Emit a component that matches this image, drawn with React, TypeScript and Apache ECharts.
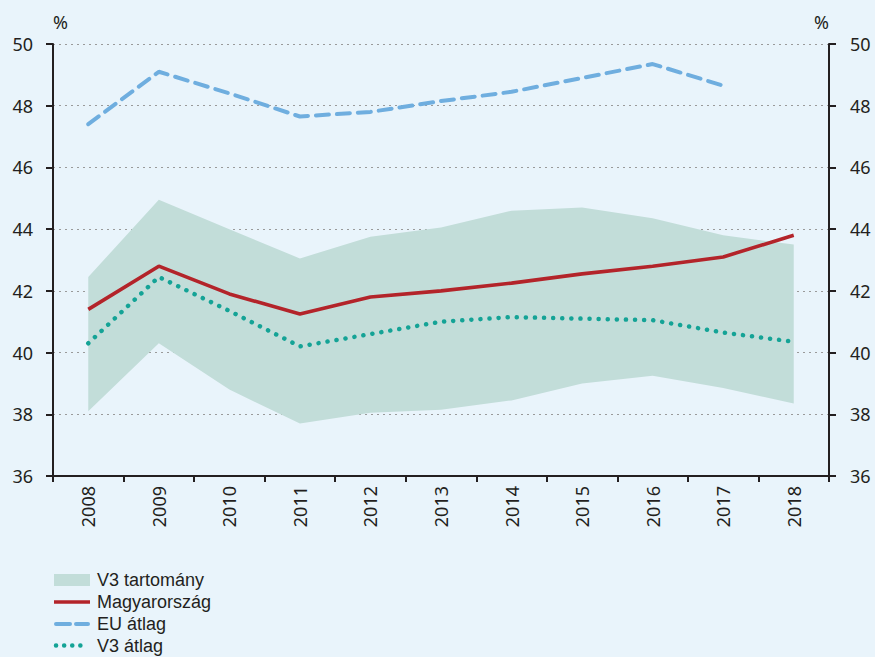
import React, { useEffect, useRef } from "react";
import * as echarts from "echarts";

const years = ["2008", "2009", "2010", "2011", "2012", "2013", "2014", "2015", "2016", "2017", "2018"];
const bandLow = [38.1, 40.3, 38.8, 37.7, 38.05, 38.15, 38.45, 39.0, 39.25, 38.85, 38.35];
const bandHigh = [42.45, 44.95, 44.0, 43.05, 43.75, 44.05, 44.6, 44.7, 44.35, 43.8, 43.5];
const hungary = [41.4, 42.8, 41.9, 41.25, 41.8, 42.0, 42.25, 42.55, 42.8, 43.1, 43.8];
const euAvg: (number | null)[] = [47.4, 49.1, 48.4, 47.65, 47.8, 48.15, 48.45, 48.9, 49.35, 48.65, null];
const v3Avg = [40.3, 42.45, 41.35, 40.2, 40.6, 41.0, 41.15, 41.1, 41.05, 40.65, 40.35];
const yTicks = { min: 36, max: 50, interval: 2 };
const legendNames = ["V3 tartomány", "Magyarország", "EU átlag", "V3 átlag"];

const FONT = "Noto Sans";
const LEGEND_FONT = "Liberation Sans";
const TEXT = "#231f20";
const BG = "#e9f4fb";
const BAND = "#c2ddd9";
const RED = "#b3242a";
const BLUE = "#6faedf";
const TEAL = "#14a396";

export default function App() {
  const ref = useRef<HTMLDivElement>(null);
  useEffect(() => {
    if (!ref.current) return;
    const chart = echarts.init(ref.current, undefined, { renderer: "svg" });
    const bandDiff = bandHigh.map((h, i) => Math.round((h - bandLow[i]) * 1000) / 1000);
    const axisCommon = {
      type: "value" as const,
      min: yTicks.min,
      max: yTicks.max,
      interval: yTicks.interval,
      name: "%",
      nameLocation: "end" as const,
      nameGap: 22,
      axisLine: { show: true, lineStyle: { color: TEXT, width: 2 } },
      axisTick: { show: true, length: 7, lineStyle: { color: TEXT, width: 2 } },
    };
    const legendY = [580, 602, 624, 645.5];
    chart.setOption({
      animation: false,
      backgroundColor: BG,
      grid: { left: 53, right: 46, top: 44, bottom: 181, containLabel: false },
      xAxis: {
        type: "category",
        data: years,
        boundaryGap: true,
        axisLine: { show: true, lineStyle: { color: TEXT, width: 2 } },
        axisTick: { show: true, interval: 0, length: 6, lineStyle: { color: TEXT, width: 2 } },
        axisLabel: { rotate: 90, margin: 10, color: TEXT, fontFamily: FONT, fontSize: 18, interval: 0 },
        splitLine: { show: false },
      },
      yAxis: [
        {
          ...axisCommon,
          position: "left",
          nameTextStyle: { align: "left", verticalAlign: "middle", color: TEXT, fontFamily: FONT, fontSize: 18 },
          axisLabel: { margin: 20, color: TEXT, fontFamily: FONT, fontSize: 18 },
          splitLine: { show: true, lineStyle: { color: "#9a9a9a", width: 1.2, type: [2, 4] } },
        },
        {
          ...axisCommon,
          position: "right",
          nameTextStyle: { align: "right", verticalAlign: "middle", color: TEXT, fontFamily: FONT, fontSize: 18 },
          axisLabel: { margin: 21, color: TEXT, fontFamily: FONT, fontSize: 18 },
          splitLine: { show: false },
        },
      ],
      series: [
        {
          name: "bandBase",
          type: "line",
          stack: "band",
          data: bandLow,
          showSymbol: false,
          silent: true,
          lineStyle: { opacity: 0, width: 0 },
        },
        {
          name: legendNames[0],
          type: "line",
          stack: "band",
          data: bandDiff,
          showSymbol: false,
          silent: true,
          lineStyle: { opacity: 0, width: 0 },
          areaStyle: { color: BAND, opacity: 1 },
        },
        {
          name: legendNames[3],
          type: "line",
          data: v3Avg,
          showSymbol: false,
          silent: true,
          lineStyle: { color: TEAL, width: 4.5, type: [0.1, 9], cap: "round" },
        },
        {
          name: legendNames[2],
          type: "line",
          data: euAvg,
          showSymbol: false,
          silent: true,
          connectNulls: false,
          lineStyle: { color: BLUE, width: 4, type: [13, 8], cap: "round" },
        },
        {
          name: legendNames[1],
          type: "line",
          data: hungary,
          showSymbol: false,
          silent: true,
          lineStyle: { color: RED, width: 3.6 },
        },
      ],
      graphic: [
        { type: "rect", shape: { x: 54, y: legendY[0] - 6, width: 36, height: 12 }, style: { fill: BAND }, silent: true },
        {
          type: "line",
          shape: { x1: 54, y1: legendY[1], x2: 90, y2: legendY[1] },
          style: { stroke: RED, lineWidth: 3.6 },
          silent: true,
        },
        {
          type: "line",
          shape: { x1: 56, y1: legendY[2], x2: 88, y2: legendY[2] },
          style: { stroke: BLUE, lineWidth: 4, lineDash: [14, 6], lineCap: "round" },
          silent: true,
        },
        {
          type: "line",
          shape: { x1: 56, y1: legendY[3], x2: 88, y2: legendY[3] },
          style: { stroke: TEAL, lineWidth: 4.5, lineDash: [0.1, 8], lineCap: "round" },
          silent: true,
        },
        ...legendNames.map((n, i) => ({
          type: "text",
          x: 97,
          y: legendY[i],
          silent: true,
          style: {
            text: n,
            fill: TEXT,
            fontFamily: LEGEND_FONT,
            fontSize: 18,
            lineHeight: 20,
            verticalAlign: "middle",
            align: "left",
          },
        })),
      ],
    });
    return () => chart.dispose();
  }, []);
  return <div ref={ref} style={{ position: "fixed", left: 0, top: 0, width: 875, height: 657 }} />;
}
